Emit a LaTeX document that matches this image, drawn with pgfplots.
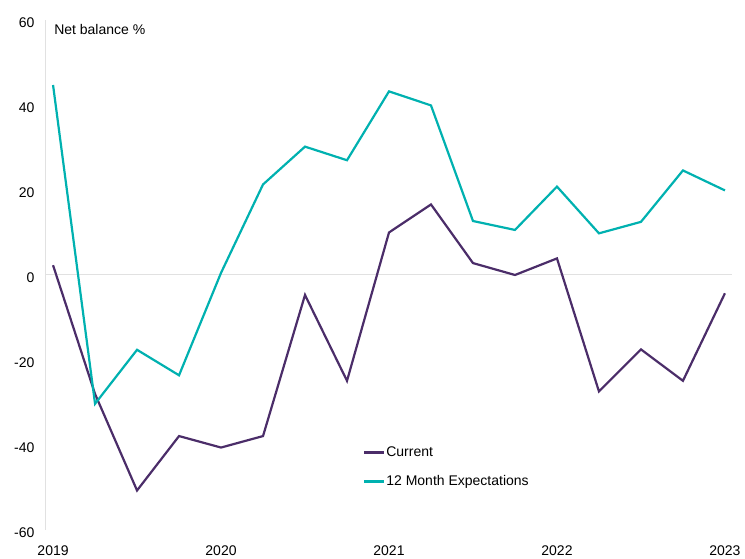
\documentclass[border=0pt]{standalone}
\usepackage{fontspec}
\setmainfont{Liberation Sans}
\usepackage{pgfplots}
\pgfplotsset{compat=1.18}
\definecolor{cpurple}{RGB}{75,45,105}
\definecolor{cteal}{RGB}{0,177,176}
\definecolor{cgrid}{RGB}{225,225,225}
\begin{document}
\begin{tikzpicture}
\path[use as bounding box] (-46pt,-29pt) rectangle (699pt,530pt);
\begin{axis}[
  scale only axis,
  width=686pt, height=510pt,
  xmin=2018.958, xmax=2023.042,
  ymin=-60, ymax=60,
  xtick={2019,2020,2021,2022,2023},
  ytick={-60,-40,-20,0,20,40,60},
  xticklabels={2019,2020,2021,2022,2023},
  /pgf/number format/assume math mode=true,
  major tick length=0pt,
  axis x line*=bottom,
  axis y line*=left,
  x axis line style={draw=none},
  y axis line style={draw=cgrid, line width=1pt, -},
  tick label style={font=\fontsize{14}{16}\selectfont},
  xticklabel style={yshift=-12pt},
  yticklabel style={xshift=-8pt, yshift=-2.5pt},
  legend style={draw=none, fill=none, inner sep=0pt, at={(rel axis cs:0.462,0.167)}, anchor=north west,
    font=\fontsize{14}{16}\selectfont, row sep=14pt,
    nodes={inner sep=1pt, text height=10pt, text depth=3pt}},
  legend cell align=left,
  legend image code/.code={\draw[#1] (0pt,0pt) -- (20pt,0pt);},
  clip=false,
]
\draw[cgrid, line width=1pt] (rel axis cs:0,0.5) -- (rel axis cs:1,0.5);
\addplot[cpurple, line width=2.2pt] coordinates {
(2019.00,2.3) (2019.25,-28.0) (2019.50,-50.7) (2019.75,-37.9) (2020.00,-40.6)
(2020.25,-37.9) (2020.50,-4.7) (2020.75,-24.9) (2021.00,10.0) (2021.25,16.6)
(2021.50,2.8) (2021.75,0.0) (2022.00,3.9) (2022.25,-27.4) (2022.50,-17.5)
(2022.75,-24.9) (2023.00,-4.3)};
\addlegendentry{Current}
\addplot[cteal, line width=2.2pt] coordinates {
(2019.00,44.7) (2019.25,-30.3) (2019.50,-17.6) (2019.75,-23.6) (2020.00,0.5)
(2020.25,21.3) (2020.50,30.2) (2020.75,27.0) (2021.00,43.2) (2021.25,39.9)
(2021.50,12.7) (2021.75,10.6) (2022.00,20.8) (2022.25,9.8) (2022.50,12.5)
(2022.75,24.6) (2023.00,19.9)};
\addlegendentry{12 Month Expectations}
\node[anchor=west, inner sep=0pt, font=\fontsize{14}{16}\selectfont] at (axis cs:2019.006,57.8) {Net balance \%};
\end{axis}
\end{tikzpicture}
\end{document}
